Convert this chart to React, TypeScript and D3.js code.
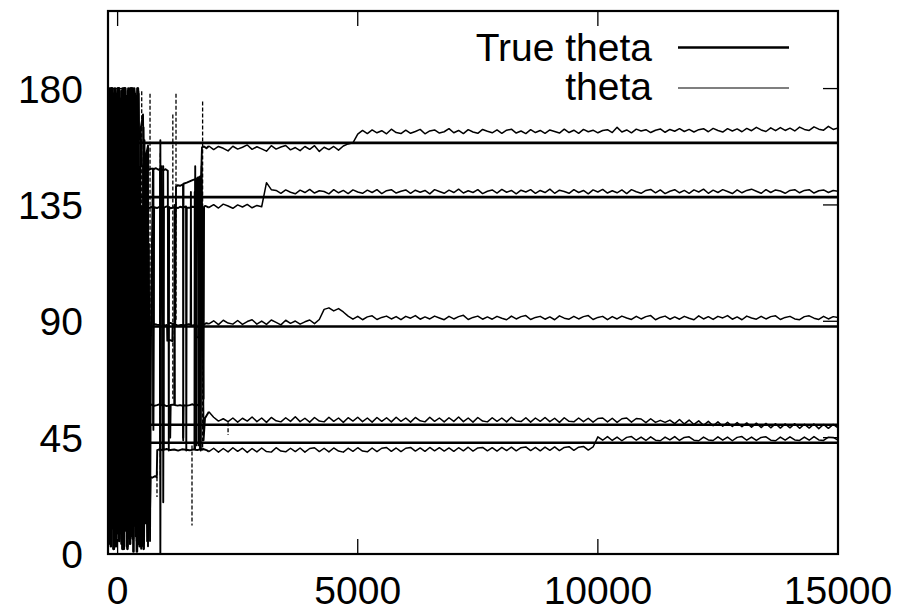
import React from 'react';
import * as d3 from 'd3';

const xTicks = [0, 5000, 10000, 15000];
const yTicks = [0, 45, 90, 135, 180];
const trueTheta = [159, 138, 88, 50, 43];
const legendLabels = ['True theta', 'theta'];

// burn-in (chaotic) phase sampled every 20 iterations, one start per component
const burnStarts = [-200, -190, -195, -185, -198];
const burnStep = 20;
const burn1 = [178, 12, 175, 3, 180, 25, 169, 8, 177, 40, 180, 6, 172, 15, 179, 2, 165, 30, 180, 9, 176, 18, 171, 4, 180, 35, 168, 11, 178, 7, 174, 20];
const burn2 = [5, 176, 22, 180, 10, 170, 3, 179, 45, 174, 14, 180, 8, 160, 27, 177, 2, 180, 16, 173, 6, 178, 38, 169, 12, 180, 1, 175, 19, 171, 9, 178];
const burn3 = [90, 180, 4, 166, 28, 178, 11, 180, 3, 174, 55, 179, 17, 168, 6, 180, 33, 172, 10, 177, 2, 180, 24, 170, 7, 176, 48, 180, 13, 167, 5, 179];
const burn4 = [140, 8, 177, 19, 180, 2, 171, 36, 178, 12, 180, 5, 163, 26, 176, 9, 180, 14, 174, 3, 179, 42, 168, 18, 180, 6, 173, 29, 177, 11, 180, 4];
const burn5 = [60, 170, 7, 180, 31, 175, 2, 178, 15, 169, 8, 180, 22, 176, 4, 173, 50, 180, 10, 177, 3, 171, 18, 180, 27, 166, 6, 179, 13, 174, 1, 180, 40, 3, 55, 8, 62, 2, 48, 12, 58, 5, 35, 10];

// transition phase [iteration, theta]
const chaos1: [number, number][] = [[440, 150], [460, 10], [480, 165], [500, 150], [529, 150], [535, 5], [545, 152], [560, 160], [580, 20], [600, 155], [633, 158], [640, 148.5], [700, 149], [737, 149], [741, 50], [746, 148.8], [800, 149.2], [850, 148.6], [883, 149], [887, 40], [893, 148.7], [950, 148.4], [1000, 148.8], [1045, 148.2], [1052, 89], [1100, 89.4], [1150, 88.9], [1200, 89.2], [1216, 142], [1250, 142.6], [1300, 142.4], [1362, 143], [1366, 45], [1372, 143.2], [1440, 143.6], [1500, 144.1], [1560, 144.6], [1620, 145], [1640, 42], [1650, 145.2], [1680, 145.7], [1700, 88], [1710, 145.9], [1740, 146.2], [1757, 157.3], [1800, 157.6], [1850, 156.9]];
const chaos2: [number, number][] = [[440, 134], [470, 134.5], [490, 2], [500, 134.5], [529, 134], [540, 10], [560, 134], [590, 30], [600, 134], [620, 133.6], [700, 134.2], [737, 134], [745, 48], [760, 134.1], [820, 133.8], [880, 134.3], [945, 134], [950, 20], [965, 134], [1020, 134.4], [1060, 134], [1066, 40], [1072, 134.2], [1100, 133.7], [1180, 134.1], [1260, 133.8], [1300, 134.3], [1360, 134], [1425, 134.4], [1430, 40], [1440, 134], [1500, 133.9], [1560, 134.3], [1612, 134.2], [1620, 88], [1640, 134], [1680, 134.2], [1686, 42], [1692, 134.1], [1700, 134.4], [1760, 134.1], [1790, 60], [1800, 134.3], [1820, 134.6], [1850, 134.4]];
const chaos3: [number, number][] = [[440, 160], [529, 170], [540, 150], [600, 148], [633, 3], [650, 120], [675, 5], [700, 100], [737, 149], [750, 89], [820, 88.7], [883, 88.5], [890, 0], [900, 88.3], [920, 150], [945, 88.6], [1000, 88.4], [1030, 88.6], [1035, 82.5], [1080, 82.8], [1140, 82.3], [1145, 88.5], [1200, 88.8], [1250, 88.3], [1320, 88.6], [1400, 88.5], [1480, 88.9], [1520, 88.6], [1526, 140], [1532, 88.4], [1560, 88.4], [1640, 88.7], [1645, 84], [1700, 83.6], [1740, 84], [1745, 145], [1750, 84.3], [1775, 84.2], [1780, 88.7], [1820, 89], [1850, 89.3]];
const chaos4: [number, number][] = [[440, 10], [529, 3], [540, 165], [560, 60], [633, 150], [640, 57], [700, 57.8], [760, 57.3], [820, 57.6], [883, 58], [890, 160], [900, 57.5], [960, 57.7], [1020, 57.2], [1091, 57.5], [1095, 45], [1105, 57.6], [1180, 57.8], [1186, 135], [1192, 57.6], [1250, 57.4], [1300, 57.6], [1362, 57.3], [1366, 44], [1372, 57.5], [1440, 57.4], [1500, 57.6], [1560, 57.9], [1612, 57.5], [1616, 150], [1625, 57.3], [1680, 57.8], [1716, 57.4], [1720, 146], [1730, 40], [1750, 150], [1790, 44], [1820, 52.5], [1850, 53.5]];
const chaos5: [number, number][] = [[680, 29.8], [720, 29.5], [780, 30.1], [815, 29.7], [825, 40.2], [880, 40.5], [945, 40.1], [950, 150], [960, 40.3], [1020, 40.6], [1100, 40.2], [1180, 40.4], [1260, 40], [1340, 40.5], [1420, 40.3], [1500, 40.1], [1580, 40.4], [1600, 40.4], [1606, 140], [1612, 40.3], [1660, 40.2], [1716, 40.5], [1722, 146], [1728, 40.3], [1780, 40.6], [1850, 40.2]];

// steady phase sampled every 100 iterations from 1900 to 15000
const steadyStart = 1900;
const steadyStep = 100;
const steady1 = [
  157.8, 156.4, 157.6, 156.9, 155.9, 157.7, 156.6, 157.3, 158.2, 156.5,
  157.5, 156.7, 155.8, 157.9, 156.6, 157.4, 158.0, 156.3, 157.2, 156.0,
  157.6, 156.5, 157.9, 155.7, 157.3, 156.4, 157.6, 156.2, 157.8, 158.6, 159.0,
  162.4, 163.8, 162.6, 164.0, 162.9, 163.7, 162.5, 164.3, 163.0, 162.6,
  163.9, 162.7, 163.4, 164.2, 162.5, 163.6, 164.0, 162.8, 163.3, 164.5,
  162.9, 163.8, 162.6, 164.1, 163.2, 162.7, 164.2, 163.5, 162.9, 164.0,
  162.7, 163.9, 164.3, 162.8, 163.6, 162.6, 164.1, 163.0, 163.8, 162.7,
  164.0, 163.4, 162.8, 164.3, 163.0, 163.9, 162.7, 164.2, 163.3, 163.9,
  162.9, 163.8, 164.1, 163.0, 165.0, 163.2, 164.0, 162.9, 164.3, 163.6,
  164.1, 163.0, 163.9, 164.4, 163.1, 164.2, 163.5, 164.5, 163.4, 164.2,
  163.2, 164.1, 164.5, 163.3, 164.6, 163.8, 163.2, 164.5, 163.6, 164.4,
  163.3, 164.6, 163.7, 165.0, 164.0, 163.4, 164.8, 163.7, 164.9, 163.8,
  164.7, 163.6, 165.1, 164.2, 163.8, 165.2, 164.3, 163.9, 165.4, 164.2,
  164.8,
];
const steady2 = [
  134.0, 135.1, 133.8, 135.3, 134.6, 133.7, 135.0, 134.2, 135.2, 133.9, 134.8, 134.3,
  143.6, 140.9,
  140.6, 139.5, 140.8, 139.9, 139.3, 140.7, 139.8, 141.0, 139.6, 140.5,
  140.2, 139.3, 140.9, 139.7, 140.6, 139.4, 140.8, 140.0, 139.5, 140.7,
  139.8, 140.9, 139.4, 140.5, 140.9, 139.6, 140.3, 140.8, 139.5, 140.7,
  139.9, 140.6, 139.3, 140.9, 140.2, 139.5, 140.7, 139.8, 141.1, 139.6,
  140.5, 139.8, 140.9, 139.4, 140.3, 140.8, 139.6, 141.0, 139.9, 140.6,
  139.3, 140.7, 140.0, 140.9, 139.5, 140.6, 139.8, 141.1, 139.5, 140.7,
  140.2, 139.5, 140.9, 139.8, 140.6, 139.3, 140.8, 140.0, 141.0, 139.6,
  140.5, 139.7, 140.8, 139.4, 140.9, 140.1, 139.5, 140.6, 141.0, 139.7,
  140.8, 139.4, 140.3, 140.9, 139.7, 140.6, 139.5, 140.8, 140.0, 141.1,
  139.5, 140.7, 139.8, 140.9, 140.2, 139.4, 140.8, 139.7, 140.6, 141.1,
  140.3, 139.5, 140.9, 139.8, 140.8, 140.4, 139.5, 140.6, 140.9, 139.7,
  140.6, 140.9, 139.6, 140.5, 140.8, 139.8, 140.6, 140.3,
];
const steady3 = [
  89.0, 90.2, 88.7, 90.4, 89.3, 88.9, 90.3, 88.8, 89.9, 90.6,
  88.9, 90.1, 88.8, 90.5, 89.6, 88.6, 90.4, 89.2, 90.1, 88.9,
  89.8, 90.5, 89.1, 90.7,
  94.6, 95.2, 94.0, 94.9, 93.6,
  92.0, 90.8, 91.9, 90.6, 91.7, 92.1, 90.7, 91.5, 92.0, 90.9,
  91.8, 90.6, 91.9, 91.2, 92.2, 90.8, 91.7, 90.9, 92.0, 91.3,
  90.6, 91.9, 90.9, 91.8, 92.3, 90.7, 91.5, 92.0, 90.8, 91.7,
  90.8, 91.9, 91.2, 90.6, 92.0, 90.9, 91.8, 92.2, 90.7, 91.5,
  91.9, 90.8, 91.7, 90.6, 92.1, 91.2, 90.8, 91.9, 90.9, 91.8,
  92.2, 90.7, 91.5, 91.9, 90.6, 91.8, 90.9, 92.0, 91.3, 90.7,
  91.9, 90.9, 91.8, 92.2, 90.6, 91.5, 92.0, 90.8, 91.7, 90.8,
  91.9, 91.2, 90.6, 92.1, 90.9, 91.8, 90.7, 91.9, 91.3, 92.2,
  90.8, 91.7, 90.6, 92.0, 91.3, 90.8, 91.9, 90.9, 91.8, 92.1,
  90.7, 91.5, 91.9, 90.9, 90.6, 91.8, 92.1, 91.2, 90.7, 91.9,
  90.9, 91.8, 91.5,
];
const steady4 = [
  55.0, 52.9, 51.4, 52.3, 51.2, 52.6, 51.0, 52.5, 51.4, 53.0,
  51.2, 52.6, 50.9, 52.8, 51.5, 51.1, 52.7, 51.3, 53.1, 51.2,
  52.5, 51.0, 52.8, 51.4, 51.1, 52.9, 51.3, 52.6, 50.9, 52.7,
  51.4, 52.9, 51.2, 52.6, 51.0, 52.8, 51.3, 52.7, 51.1, 52.9,
  51.3, 52.6, 51.0, 52.8, 51.5, 51.1, 52.9, 51.3, 52.6, 51.1,
  52.7, 51.3, 53.0, 51.2, 52.6, 51.0, 52.8, 51.4, 51.1, 52.7,
  51.3, 52.6, 51.1, 52.9, 51.4, 51.2, 52.7, 51.0, 52.6, 51.3,
  52.8, 51.2, 52.5, 50.9, 52.7, 51.3, 51.1, 52.6, 51.2, 52.5,
  51.0, 52.4, 52.6, 51.1, 52.5, 50.9, 52.3, 52.6, 51.0, 52.4,
  52.2, 50.8, 52.3, 50.9, 51.7, 50.9, 51.8, 50.4, 52.0, 50.3,
  51.8, 50.1, 51.5, 49.8, 51.3, 49.6, 51.1, 49.4, 50.9, 49.3,
  50.8, 49.2, 50.7, 49.0, 50.6, 48.9, 50.5, 48.8, 50.4, 48.7,
  50.3, 48.8, 50.4, 48.6, 50.2, 48.7, 50.3, 48.5, 50.1, 48.6,
  50.1, 48.8,
];
const steady5 = [
  39.6, 40.9, 39.4, 40.8, 39.5, 41.1, 39.7, 40.9, 39.3, 40.8,
  39.5, 41.0, 39.6, 39.4, 41.1, 39.8, 39.5, 40.9, 39.6, 41.0,
  39.4, 40.8, 41.1, 39.6, 40.9, 39.5, 41.0, 39.8, 39.4, 40.9,
  39.7, 41.1, 39.8, 39.5, 41.0, 39.6, 40.9, 41.2, 39.7, 41.0,
  39.6, 40.9, 41.2, 39.8, 41.0, 39.7, 41.2, 39.9, 41.1, 39.8,
  41.0, 39.7, 41.1, 39.9, 41.3, 39.8, 41.0, 41.2, 39.9, 41.1,
  39.8, 41.2, 40.0, 41.3, 39.9, 41.1, 41.4, 40.0, 41.2, 39.9,
  41.3, 40.1, 41.4, 40.0, 41.2, 41.5, 40.1, 41.3, 41.6, 40.2,
  41.4, 45.3, 44.0, 45.4, 43.9, 45.2, 43.8, 45.1, 45.4, 44.0,
  45.2, 43.9, 45.3, 44.0, 43.8, 45.2, 44.1, 45.4, 43.9, 45.1,
  45.3, 44.0, 43.8, 45.2, 44.1, 43.9, 45.3, 44.0, 45.2, 43.8,
  45.1, 45.4, 44.0, 45.2, 43.9, 45.1, 45.3, 44.0, 43.8, 45.2,
  44.0, 45.3, 44.1, 43.9, 45.2, 44.0, 45.4, 44.1, 43.9, 45.2,
  45.1, 44.0,
];

// jumps of theta that render as dashed strokes: [iteration, from, to]
const dashedJumps: [number, number, number][] = [
  [502, 179, 3], [620, 57, 14], [675, 178, 40], [820, 32, 22], [890, 155, 30],
  [1150, 170, 60], [1216, 178, 90], [1549, 42, 11], [1770, 175, 40], [2300, 51, 46],
];

const burns = [burn1, burn2, burn3, burn4, burn5];
const chaoses = [chaos1, chaos2, chaos3, chaos4, chaos5];
const steadies = [steady1, steady2, steady3, steady4, steady5];

const W = 905;
const H = 613;
const FONT = "'Liberation Sans', Arial, Helvetica, sans-serif";
const FS = 39;

export default function App() {
  const x = d3.scaleLinear().domain([-200, 15000]).range([108, 838]);
  const y = d3.scaleLinear().domain([0, 210]).range([554, 11]);
  const line = d3.line<[number, number]>().x((d) => x(d[0])).y((d) => y(d[1]));

  const burnPaths: [number, number][][] = burns.map((b, k) => {
    const pts: [number, number][] = b.map((v, i) => [burnStarts[k] + i * burnStep, v]);
    pts.push(chaoses[k][0]);
    return pts;
  });
  const chaosPaths: [number, number][][] = chaoses.map((c, k) => {
    const pts: [number, number][] = c.map((p) => p);
    pts.push([steadyStart, steadies[k][0]]);
    return pts;
  });
  const steadyPaths: [number, number][][] = steadies.map((s) => s.map((v, i) => [steadyStart + i * steadyStep, v] as [number, number]));

  const [x0, x1] = x.range();
  const [yb, yt] = y.range();
  const tick = 15;

  return (
    <svg width={W} height={H} style={{ position: 'absolute', left: 0, top: 0, background: '#fff' }}>
      <defs>
        <clipPath id="plot">
          <rect x={x0} y={yt} width={x1 - x0} height={yb - yt} />
        </clipPath>
      </defs>
      <rect x={0} y={0} width={W} height={H} fill="#fff" />
      <g clipPath="url(#plot)">
        {trueTheta.map((v, i) => (
          <line key={'t' + i} x1={x(0)} x2={x(15000)} y1={y(v)} y2={y(v)} stroke="#000" strokeWidth={2.6} />
        ))}
        {burnPaths.map((s, i) => (
          <path key={'b' + i} d={line(s) || ''} fill="none" stroke="#000" strokeWidth={2.6} strokeLinejoin="round" />
        ))}
        {chaosPaths.map((s, i) => (
          <path key={'c' + i} d={line(s) || ''} fill="none" stroke="#000" strokeWidth={1.9} strokeLinejoin="round" />
        ))}
        {steadyPaths.map((s, i) => (
          <path key={'s' + i} d={line(s) || ''} fill="none" stroke="#000" strokeWidth={1.5} strokeLinejoin="round" />
        ))}
        {dashedJumps.map((d, i) => (
          <line key={'d' + i} x1={x(d[0])} x2={x(d[0])} y1={y(d[1])} y2={y(d[2])} stroke="#000" strokeWidth={1.3} strokeDasharray="4 2" />
        ))}
      </g>
      {xTicks.map((t) => (
        <g key={'xt' + t}>
          <line x1={x(t)} x2={x(t)} y1={yb} y2={yb - tick} stroke="#000" strokeWidth={1.3} />
          <line x1={x(t)} x2={x(t)} y1={yt} y2={yt + tick} stroke="#000" strokeWidth={1.3} />
          <text x={x(t)} y={604} textAnchor="middle" fontFamily={FONT} fontSize={FS} fill="#000">{t}</text>
        </g>
      ))}
      {yTicks.map((t) => (
        <g key={'yt' + t}>
          <line x1={x0} x2={x0 + tick} y1={y(t)} y2={y(t)} stroke="#000" strokeWidth={1.3} />
          <line x1={x1} x2={x1 - tick} y1={y(t)} y2={y(t)} stroke="#000" strokeWidth={1.3} />
          <text x={83} y={y(t) + 14} textAnchor="end" fontFamily={FONT} fontSize={FS} fill="#000">{t}</text>
        </g>
      ))}
      <rect x={x0} y={yt} width={x1 - x0} height={yb - yt} fill="none" stroke="#000" strokeWidth={2.2} />
      <text x={652} y={61} textAnchor="end" fontFamily={FONT} fontSize={FS} fill="#000">{legendLabels[0]}</text>
      <line x1={678} x2={789} y1={47.5} y2={47.5} stroke="#000" strokeWidth={2.6} />
      <text x={652} y={100} textAnchor="end" fontFamily={FONT} fontSize={FS} fill="#000">{legendLabels[1]}</text>
      <line x1={678} x2={789} y1={88} y2={88} stroke="#000" strokeWidth={1.2} />
    </svg>
  );
}
